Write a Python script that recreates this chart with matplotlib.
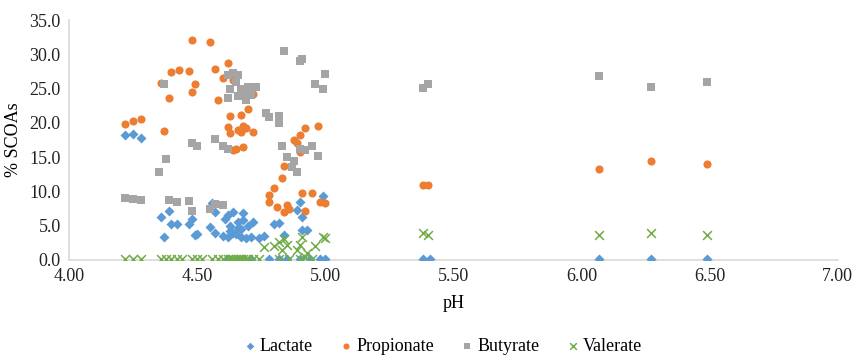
import matplotlib.pyplot as plt

plt.rcParams["font.family"] = ["Liberation Serif", "DejaVu Serif"]

# pH / % SCOAs readings per acid
lactate_ph = [4.22, 4.25, 4.28, 4.36, 4.37, 4.39, 4.40, 4.42, 4.47, 4.48, 4.49, 4.50,
              4.55, 4.56, 4.57, 4.57, 4.60, 4.61, 4.62, 4.62, 4.63, 4.63, 4.64, 4.64,
              4.65, 4.66, 4.66, 4.67, 4.67, 4.68, 4.68, 4.69, 4.70, 4.71, 4.72, 4.74,
              4.76, 4.80, 4.82, 4.84, 4.89, 4.90, 4.91, 4.91, 4.93, 4.99,
              4.62, 4.65, 4.68, 4.71, 4.78, 4.82, 4.85, 4.90, 4.94, 4.98, 5.00,
              5.38, 5.41, 6.07, 6.27, 6.49]
lactate_val = [18.2, 18.4, 17.8, 6.3, 3.4, 7.2, 5.2, 5.2, 5.2, 6.0, 3.6, 3.8,
               4.8, 8.3, 4.0, 7.0, 3.5, 6.0, 6.5, 3.3, 5.0, 4.2, 7.0, 3.9,
               3.8, 5.5, 4.6, 3.3, 4.5, 6.8, 5.8, 3.2, 5.0, 3.3, 5.5, 3.2,
               3.5, 5.2, 5.4, 3.6, 7.3, 8.5, 6.3, 4.4, 4.4, 9.4,
               0.1, 0.1, 0.1, 0.1, 0.1, 0.1, 0.1, 0.1, 0.1, 0.1, 0.1,
               0.1, 0.1, 0.1, 0.1, 0.1]

propionate_ph = [4.22, 4.25, 4.28, 4.36, 4.37, 4.39, 4.40, 4.43, 4.47, 4.48, 4.48, 4.49,
                 4.55, 4.57, 4.58, 4.60, 4.62, 4.62, 4.63, 4.63, 4.64, 4.65, 4.66, 4.67,
                 4.67, 4.68, 4.68, 4.69, 4.70, 4.72, 4.72, 4.64,
                 4.78, 4.78, 4.80, 4.81, 4.83, 4.84, 4.84, 4.85, 4.86, 4.88, 4.89, 4.90,
                 4.90, 4.91, 4.92, 4.92, 4.95, 4.97, 4.98, 5.00,
                 5.38, 5.40, 6.07, 6.27, 6.49]
propionate_val = [19.9, 20.3, 20.6, 25.8, 18.8, 23.6, 27.4, 27.7, 27.5, 24.5, 32.1, 25.7,
                  31.8, 27.8, 23.4, 26.6, 28.8, 19.4, 18.5, 21.0, 16.0, 16.2, 19.0, 21.1,
                  18.6, 19.5, 16.5, 19.3, 22.0, 24.2, 18.7, 26.3,
                  9.5, 8.5, 10.5, 7.8, 11.9, 13.7, 7.0, 8.0, 7.5, 17.5, 17.0, 18.2,
                  15.8, 9.8, 19.2, 7.2, 9.7, 19.5, 8.5, 8.3,
                  10.9, 10.9, 13.3, 14.4, 14.0]

butyrate_ph = [4.22, 4.25, 4.28, 4.35, 4.37, 4.38, 4.39, 4.42, 4.47, 4.48, 4.48, 4.50,
               4.55, 4.57, 4.57, 4.60, 4.62, 4.62, 4.63, 4.64, 4.65, 4.66, 4.66, 4.67,
               4.68, 4.69, 4.70, 4.71, 4.73, 4.62, 4.60,
               4.77, 4.78, 4.82, 4.82, 4.84, 4.83, 4.85, 4.87, 4.88, 4.89, 4.90, 4.91,
               4.90, 4.92, 4.95, 4.96, 4.97, 4.99, 5.00,
               5.38, 5.40, 6.07, 6.27, 6.49]
butyrate_val = [9.1, 8.9, 8.8, 12.8, 25.7, 14.8, 8.8, 8.5, 8.6, 7.1, 17.0, 16.6,
                7.5, 8.2, 17.6, 8.0, 23.6, 27.0, 24.9, 27.3, 26.0, 27.0, 23.9, 25.0,
                24.0, 23.3, 25.3, 24.1, 25.2, 16.2, 16.6,
                21.5, 20.8, 21.0, 20.0, 30.5, 16.6, 15.0, 13.6, 14.4, 12.8, 29.0, 29.3,
                16.2, 16.0, 16.6, 25.6, 15.2, 25.0, 27.1,
                25.1, 25.6, 26.9, 25.3, 25.9]

valerate_ph = [4.22, 4.25, 4.28, 4.36, 4.38, 4.40, 4.42, 4.44, 4.48, 4.50, 4.52,
               4.56, 4.58, 4.60, 4.62, 4.63, 4.64, 4.65, 4.66, 4.67, 4.68, 4.69, 4.70,
               4.72, 4.74, 4.82, 4.86, 4.90, 4.95,
               4.76, 4.80, 4.82, 4.83, 4.84, 4.85, 4.89, 4.90, 4.91, 4.93, 4.96, 4.99,
               5.00, 4.92, 5.38, 5.40, 6.07, 6.27, 6.49]
valerate_val = [0.1, 0.1, 0.1, 0.1, 0.1, 0.1, 0.1, 0.1, 0.1, 0.1, 0.1,
                0.1, 0.1, 0.1, 0.1, 0.1, 0.1, 0.1, 0.1, 0.1, 0.1, 0.1, 0.1,
                0.1, 0.1, 0.1, 0.1, 0.1, 0.1,
                1.9, 2.1, 2.6, 1.5, 3.0, 2.2, 1.4, 2.2, 3.3, 1.0, 2.0, 3.4,
                3.2, 0.5, 3.9, 3.7, 3.7, 3.9, 3.7]

fig = plt.figure(figsize=(8.56, 3.56), dpi=100)
ax = fig.add_axes([0.0806, 0.2697, 0.898, 0.674])

ax.scatter(lactate_ph, lactate_val, marker="D", s=26, color="#5B9BD5",
           linewidths=0, label="Lactate", zorder=3)
ax.scatter(propionate_ph, propionate_val, marker="o", s=34, color="#ED7D31",
           linewidths=0, label="Propionate", zorder=3)
ax.scatter(butyrate_ph, butyrate_val, marker="s", s=30, color="#A5A5A5",
           linewidths=0, label="Butyrate", zorder=3)
ax.scatter(valerate_ph, valerate_val, marker="x", s=40, color="#70AD47",
           linewidths=1.1, label="Valerate", zorder=3)

ax.set_xlim(4.0, 7.0)
ax.set_ylim(0, 35)
ax.set_xticks([4.0, 4.5, 5.0, 5.5, 6.0, 6.5, 7.0])
ax.set_xticklabels(["4.00", "4.50", "5.00", "5.50", "6.00", "6.50", "7.00"])
ax.set_yticks(range(0, 36, 5))
ax.set_yticklabels([f"{v:.1f}" for v in range(0, 36, 5)])
ax.tick_params(length=0, labelsize=13, colors="#222222", pad=6)

for side in ["top", "right"]:
    ax.spines[side].set_visible(False)
for side in ["left", "bottom"]:
    ax.spines[side].set_color("#d9d9d9")
    ax.spines[side].set_linewidth(1.2)

ax.set_xlabel("pH", fontsize=13, labelpad=7)
ax.set_ylabel("% SCOAs", fontsize=13, labelpad=5)

ax.legend(loc="center", bbox_to_anchor=(0.485, -0.36), ncol=4, frameon=False,
          fontsize=13, handletextpad=0.1, handlelength=0.9, columnspacing=1.4,
          markerscale=0.75, borderpad=0)

fig.savefig("out.png", dpi=100)
